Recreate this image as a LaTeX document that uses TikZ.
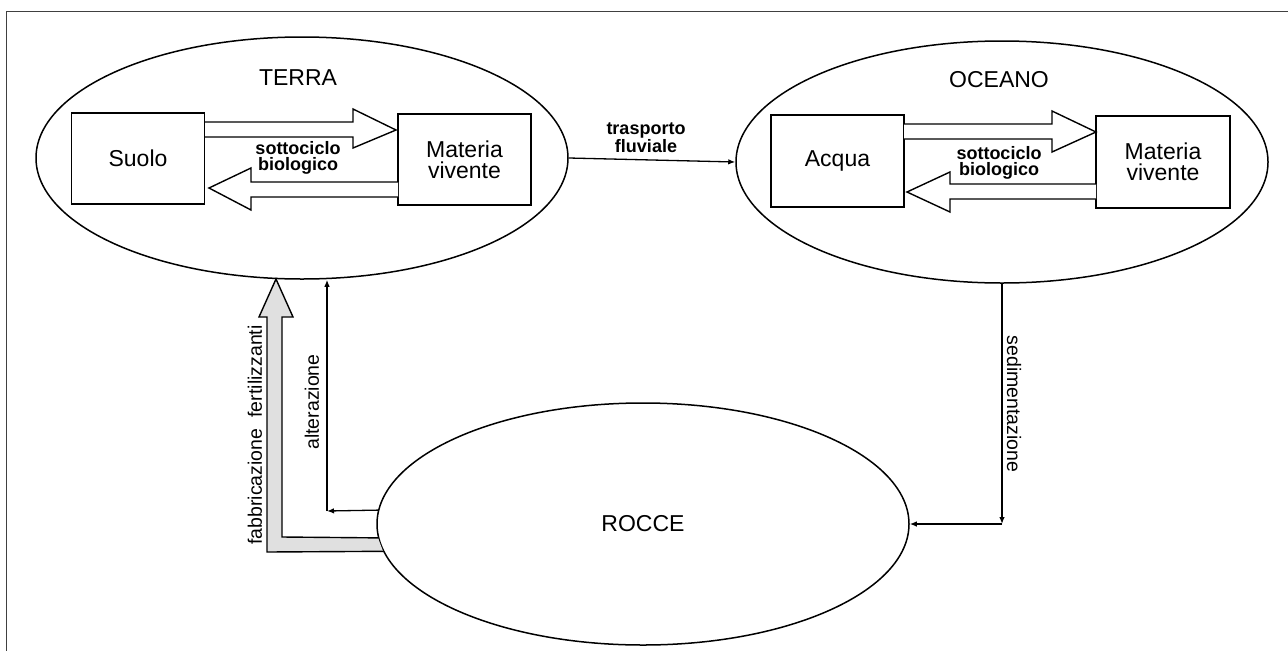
\documentclass[tikz,border=0pt]{standalone}
\usepackage{fontspec}
\setmainfont{Liberation Sans}
\usetikzlibrary{shapes.geometric,arrows.meta,calc}
\begin{document}
\begin{tikzpicture}[x=1pt,y=-1pt,
  region/.style={ellipse, draw, line width=1.5pt, minimum width=532pt, minimum height=242pt, inner sep=0pt},
  compart/.style={rectangle, draw, line width=1.5pt, minimum width=133pt, minimum height=91pt, align=center, inner sep=0pt, font=\fontsize{23}{21}\selectfont},
  title/.style={font=\fontsize{23}{24}\selectfont},
  cyclabel/.style={font=\fontsize{18}{16.5}\selectfont\bfseries, align=center},
  flowlabel/.style={font=\fontsize{19.5}{20}\selectfont},
  link/.style={line width=1.3pt, -{Latex[length=7pt,width=5.5pt]}},
  blockarrow/.style={draw, line width=1.4pt, fill=white, line join=miter},
  fertarrow/.style={draw, line width=1.4pt, fill=black!12, line join=miter},
  frameline/.style={line width=1pt, black!75}
]
\useasboundingbox (0,0) rectangle (1288,651);
% frame
\coordinate (fc) at (6,11);
\draw[frameline] (1288,11) -- (fc) -- (6,651);

% regions
\node[region] (terra) at (302,158) {};
\node[region] (oceano) at (1002,162) {};
\node[region, title] (rocce) at (643,524) {ROCCE};

\node[title] (terraT) at (298,78) {TERRA};
\node[title] (oceanoT) at (999,80) {OCEANO};

% compartments
\node[compart] (suolo) at (138,158.5) {Suolo};
\node[compart] (mat1) at (464.5,159.5) {Materia\\vivente};
\node[compart, minimum height=92pt] (acqua) at (837.5,161) {Acqua};
\node[compart, minimum height=92pt, minimum width=134pt] (mat2) at (1163,162) {Materia\\vivente};

% block arrows TERRA
\draw[blockarrow] (205,122) -- (353,122) -- (353,109) -- (396,130) -- (353,148) -- (353,137) -- (205,137);
\draw[blockarrow] (398,182) -- (251,182) -- (251,168) -- (209,188) -- (251,210) -- (251,197) -- (398,197);
\node[cyclabel] (cyc1) at (298,158) {sottociclo\\biologico};

% block arrows OCEANO
\draw[blockarrow] (904,124) -- (1052,124) -- (1052,111) -- (1096,132) -- (1052,152) -- (1052,139) -- (904,139);
\draw[blockarrow] (1096,184) -- (950,184) -- (950,172) -- (907,192) -- (950,212) -- (950,199) -- (1096,199);
\node[cyclabel] (cyc2) at (999,163) {sottociclo\\biologico};

% trasporto fluviale
\draw[link] (terra.east) -- (oceano.west);
\node[cyclabel] (trasp) at (646,138) {trasporto\\fluviale};

% sedimentazione
\coordinate (sedc) at (oceano.south |- rocce.east);
\draw[link] (oceano.south) -- (sedc);
\draw[link] (sedc) -- (rocce.east);
\node[flowlabel, rotate=-90] (sedT) at (1014,404) {sedimentazione};

% alterazione
\coordinate (altc) at (327,511);
\draw[link] (rocce.177) -- (altc);
\draw[link] (altc) -- (altc |- terra.south);
\node[flowlabel, rotate=90] (altT) at (312,402) {alterazione};

% fabbricazione fertilizzanti
\draw[fertarrow] (rocce.186) -- (267,552) -- (267,317) -- (259,317) -- (276,279) -- (293,317) -- (282,317) -- (282,537) -- (rocce.183);
\node[flowlabel, rotate=90] (fertT) at (255,435) {fabbricazione\hspace{0.3em} fertilizzanti};
\end{tikzpicture}
\end{document}
